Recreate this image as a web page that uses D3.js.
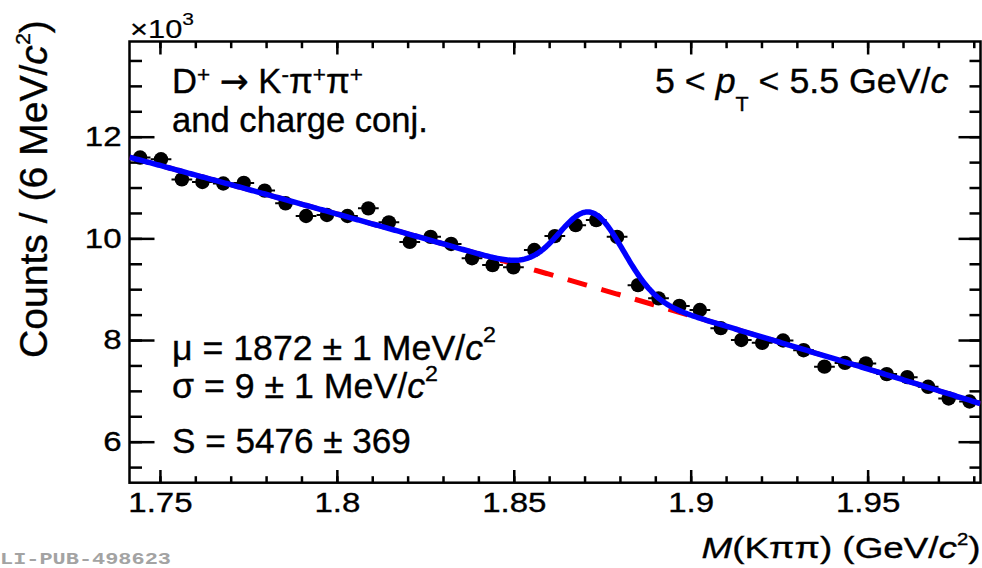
<!DOCTYPE html>
<html>
<head>
<meta charset="utf-8">
<script src="https://cdn.jsdelivr.net/npm/d3@7"></script>
<style>
  body { margin: 0; background: #fff; }
  svg { display: block; }
  text { font-family: "Liberation Sans", Arial, Helvetica, sans-serif; fill: #000; }
</style>
</head>
<body>
<svg id="chart" width="982" height="568"></svg>
<script>
// Invariant-mass bin centres (GeV/c^2)
const massBins = [
  1.7444, 1.7503, 1.7562, 1.7620, 1.7679, 1.7737, 1.7796, 1.7855, 1.7913, 1.7972,
  1.8030, 1.8089, 1.8147, 1.8206, 1.8265, 1.8323, 1.8382, 1.8440, 1.8499, 1.8558,
  1.8616, 1.8675, 1.8733, 1.8792, 1.8851, 1.8909, 1.8968, 1.9026, 1.9085, 1.9143,
  1.9202, 1.9261, 1.9319, 1.9378, 1.9436, 1.9495, 1.9554, 1.9612, 1.9671, 1.9729,
  1.9788
];
const binHalfWidth = 0.00293;

// Candidate counts per bin
const counts = [
  11590, 11555, 11160, 11110, 11080, 11090, 10940, 10690, 10440, 10460,
  10440, 10590, 10315, 9930, 10030, 9890, 9610, 9475, 9430, 9770,
  10045, 10260, 10360, 10030, 9080, 8820, 8670, 8590, 8234, 8000,
  7945, 7990, 7800, 7476, 7550, 7540, 7330, 7270, 7080, 6850,
  6790
];

// Fit parameters: Gaussian signal + 2nd-order polynomial background
const signalYield = 5476;     // S
const signalMean = 1.872;     // mu  (GeV/c^2)
const signalSigma = 0.009;    // sigma (GeV/c^2)
const countsBinWidth = 0.006; // 6 MeV/c^2 per bin
const bkgPivot = 1.86;
const bkgPars = [9294, -20140, -6130];

// Axis ticks
const xMajorTicks = [1.75, 1.80, 1.85, 1.90, 1.95];
const xMinorTicks = [1.75, 1.76, 1.77, 1.78, 1.79, 1.80, 1.81, 1.82, 1.83, 1.84, 1.85, 1.86,
                     1.87, 1.88, 1.89, 1.90, 1.91, 1.92, 1.93, 1.94, 1.95, 1.96, 1.97, 1.98];
const xTickLabels = ["1.75", "1.8", "1.85", "1.9", "1.95"];
const yMajorTicks = [6000, 8000, 10000, 12000];
const yMinorTicks = [5500, 6000, 6500, 7000, 7500, 8000, 8500, 9000, 9500, 10000,
                     10500, 11000, 11500, 12000, 12500, 13000, 13500];
const yTickLabels = ["6", "8", "10", "12"];

const svg = d3.select("#chart");
const frame = { l: 129.5, r: 980.5, t: 41.5, b: 482.7 };

const x = d3.scaleLinear().domain([1.7414, 1.9819]).range([frame.l, frame.r]);
const y = d3.scaleLinear().domain([5193, 13873]).range([frame.b, frame.t]);

svg.append("defs").append("clipPath").attr("id", "plotClip")
  .append("rect")
  .attr("x", frame.l).attr("y", frame.t)
  .attr("width", frame.r - frame.l).attr("height", frame.b - frame.t);

// ---------- axes ----------
function styleAxis(g) {
  g.select(".domain").remove();
  g.selectAll(".tick line").attr("stroke", "#000").attr("stroke-width", 2.5);
}

const tickScaleX = 1.18;
const textStroke = 0.35;

svg.append("g").attr("transform", `translate(0,${frame.b})`)
  .call(d3.axisBottom(x).tickValues(xMinorTicks).tickSize(-6.5).tickFormat(""))
  .call(styleAxis);
const gxb = svg.append("g").attr("transform", `translate(0,${frame.b})`)
  .call(d3.axisBottom(x).tickValues(xMajorTicks).tickSize(-12.7).tickPadding(9)
        .tickFormat((d, i) => xTickLabels[i]))
  .call(styleAxis);
gxb.selectAll(".tick text")
  .attr("font-size", 28).attr("font-family", null)
  .style("stroke", "#000").style("stroke-width", textStroke)
  .attr("transform", `scale(${tickScaleX},1)`);

svg.append("g").attr("transform", `translate(0,${frame.t})`)
  .call(d3.axisTop(x).tickValues(xMinorTicks).tickSize(-6.7).tickFormat(""))
  .call(styleAxis);
svg.append("g").attr("transform", `translate(0,${frame.t})`)
  .call(d3.axisTop(x).tickValues(xMajorTicks).tickSize(-13).tickFormat(""))
  .call(styleAxis);

svg.append("g").attr("transform", `translate(${frame.l},0)`)
  .call(d3.axisLeft(y).tickValues(yMinorTicks).tickSize(-12.5).tickFormat(""))
  .call(styleAxis);
const gyl = svg.append("g").attr("transform", `translate(${frame.l},0)`)
  .call(d3.axisLeft(y).tickValues(yMajorTicks).tickSize(-25).tickPadding(8)
        .tickFormat((d, i) => yTickLabels[i]))
  .call(styleAxis);
gyl.selectAll(".tick text")
  .attr("font-size", 28).attr("font-family", null)
  .style("stroke", "#000").style("stroke-width", textStroke)
  .attr("transform", `translate(-8,0) scale(${tickScaleX},1) translate(8,0)`);

svg.append("g").attr("transform", `translate(${frame.r},0)`)
  .call(d3.axisRight(y).tickValues(yMinorTicks).tickSize(-11).tickFormat(""))
  .call(styleAxis);
svg.append("g").attr("transform", `translate(${frame.r},0)`)
  .call(d3.axisRight(y).tickValues(yMajorTicks).tickSize(-22).tickFormat(""))
  .call(styleAxis);

svg.append("rect")
  .attr("x", frame.l).attr("y", frame.t)
  .attr("width", frame.r - frame.l).attr("height", frame.b - frame.t)
  .attr("fill", "none").attr("stroke", "#000").attr("stroke-width", 2.5);

// ---------- fit curves ----------
const sigAmp = signalYield * countsBinWidth / (signalSigma * Math.sqrt(2 * Math.PI));
const bkg = m => {
  const t = m - bkgPivot;
  return bkgPars[0] + bkgPars[1] * t + bkgPars[2] * t * t;
};
const total = m => bkg(m) + sigAmp * Math.exp(-0.5 * ((m - signalMean) / signalSigma) ** 2);

const [m0, m1] = x.domain();
const curveMass = d3.range(0, 501).map(i => m0 + (m1 - m0) * i / 500);
const line = f => d3.line().x(m => x(m)).y(m => y(f(m)))(curveMass);

const plot = svg.append("g").attr("clip-path", "url(#plotClip)");

plot.append("path").attr("d", line(bkg))
  .attr("fill", "none").attr("stroke", "#ff0000").attr("stroke-width", 5)
  .attr("stroke-dasharray", "20,15");

// ---------- data points ----------
const pts = plot.append("g");
pts.selectAll("line.xerr").data(massBins).join("line")
  .attr("class", "xerr")
  .attr("x1", m => x(m - binHalfWidth)).attr("x2", m => x(m + binHalfWidth))
  .attr("y1", (m, i) => y(counts[i])).attr("y2", (m, i) => y(counts[i]))
  .attr("stroke", "#000").attr("stroke-width", 2);
pts.selectAll("circle").data(massBins).join("circle")
  .attr("cx", m => x(m)).attr("cy", (m, i) => y(counts[i]))
  .attr("r", 7.2).attr("fill", "#000");

plot.append("path").attr("d", line(total))
  .attr("fill", "none").attr("stroke", "#0000ff").attr("stroke-width", 5.5)
  .attr("stroke-linejoin", "round");

// ---------- text ----------
// parts: [string, kind, family?]  kind: "" | "i" | "sup" | "sub"
function rich(parent, px, py, size, parts, opts = {}) {
  const supSize = opts.supSize || 0.6, supShift = opts.supShift || -0.45;
  const subSize = opts.subSize || 0.6, subShift = opts.subShift || 0.5;
  const t = parent.append("text").attr("x", px).attr("y", py)
    .attr("font-size", size).attr("text-anchor", opts.anchor || "start");
  if (opts.family) t.style("font-family", opts.family);
  if (opts.weight) t.attr("font-weight", opts.weight);
  if (opts.fill) t.style("fill", opts.fill);
  t.style("stroke", opts.fill || "#000").style("stroke-width", opts.stroke ?? textStroke);
  let cur = 0;
  parts.forEach(([s, kind, fam]) => {
    let off = 0, fs = size;
    if (kind === "sup") { off = supShift * size; fs = supSize * size; }
    if (kind === "sub") { off = subShift * size; fs = subSize * size; }
    const ts = t.append("tspan").attr("dy", off - cur).attr("font-size", fs).text(s);
    if (kind === "i") ts.attr("font-style", "italic");
    if (fam) ts.style("font-family", fam);
    cur = off;
  });
  return t;
}
// stretch a text horizontally so that it spans the given width
function fitWidth(t, width, pivot = "start") {
  const bb = t.node().getBBox();
  const sx = width / bb.width;
  const p = pivot === "end" ? bb.x + bb.width : bb.x;
  t.attr("transform", `translate(${p},0) scale(${sx},1) translate(${-p},0)`);
}

const ann = svg.append("g");

fitWidth(rich(ann, 130, 38.3, 25, [["×", ""], ["10", ""], ["3", "sup"]],
  { supSize: 0.68, supShift: -0.55, stroke: 0.2 }), 64);

fitWidth(rich(ann, 172, 93.3, 35, [
  ["D", ""], ["+", "sup"], [" ", ""], ["→", "", "'DejaVu Sans'"], [" K", ""], ["-", "sup"],
  ["π", ""], ["+", "sup"], ["π", ""], ["+", "sup"]
], { supSize: 0.65, supShift: -0.32 }), 191);

fitWidth(rich(ann, 172, 131.7, 35, [["and charge conj.", ""]]), 256);

fitWidth(rich(ann, 655, 93.3, 35, [
  ["5 < ", ""], ["p", "i"], ["T", "sub"], [" < 5.5 GeV/", ""], ["c", "i"]
]), 294);

fitWidth(rich(ann, 172, 360, 35, [
  ["μ = 1872 ± 1 MeV/", ""], ["c", "i"], ["2", "sup"]
], { supSize: 0.65, supShift: -0.52 }), 324);

fitWidth(rich(ann, 172, 398.3, 35, [
  ["σ = 9 ± 1 MeV/", ""], ["c", "i"], ["2", "sup"]
], { supSize: 0.65, supShift: -0.48 }), 266);

fitWidth(rich(ann, 172, 453.3, 35, [["S = 5476 ± 369", ""]]), 239);

// axis titles
fitWidth(rich(svg, 980.5, 558.3, 30, [
  ["M", "i"], ["(Kππ) (GeV/", ""], ["c", "i"], ["2", "sup"], [")", ""]
], { anchor: "end", supSize: 0.55, supShift: -0.45 }), 279, "end");

const yt = svg.append("g").attr("transform", "translate(47,358) rotate(-90)");
fitWidth(rich(yt, 0, 0, 38, [
  ["Counts / (6 MeV/", ""], ["c", "i"], ["2", "sup"], [")", ""]
], { supSize: 0.55, supShift: -0.45 }), 338);

// publication tag
fitWidth(rich(svg, 0, 564, 17, [["LI-PUB-498623", ""]],
  { family: "'Liberation Mono', 'DejaVu Sans Mono', monospace", weight: "bold", fill: "#a3a3a3", stroke: 0 }), 171);
</script>
</body>
</html>
